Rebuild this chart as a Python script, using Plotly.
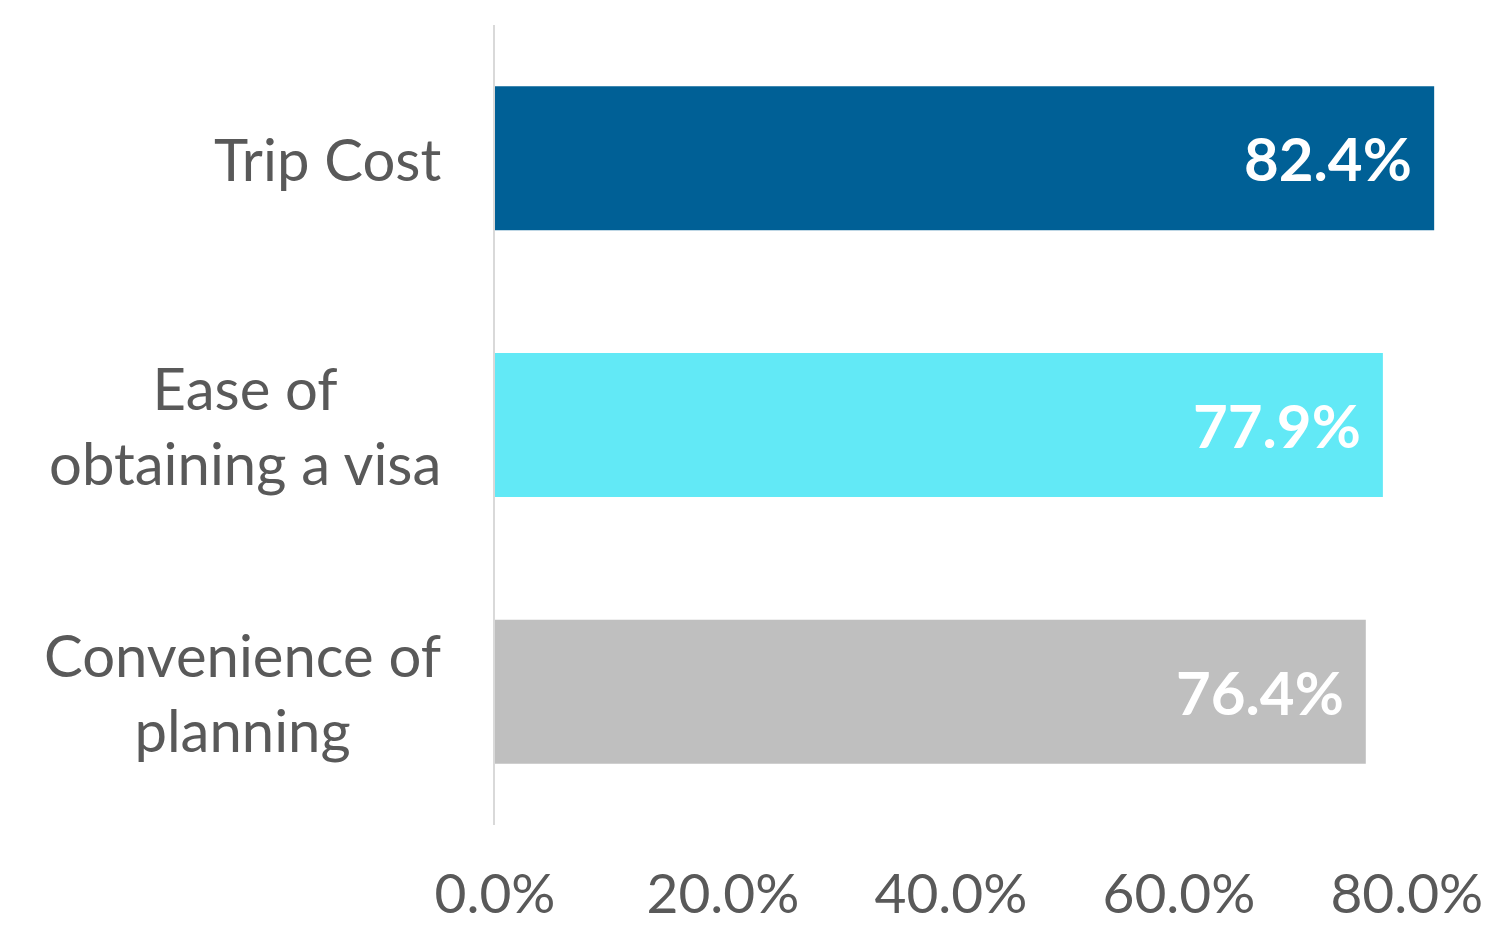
import plotly.graph_objects as go

# Survey results: share of respondents citing each factor
categories = ["Trip Cost", "Ease of<br>obtaining a visa", "Convenience of<br>planning"]
values = [0.824, 0.779, 0.764]
bar_colors = ["#006096", "#62E9F6", "#BFBFBF"]
tick_values = [0.0, 0.2, 0.4, 0.6, 0.8]
tick_labels = ["0.0%", "20.0%", "40.0%", "60.0%", "80.0%"]

FONT = "Lato, 'Open Sans', sans-serif"
TEXT_GREY = "#595959"

fig = go.Figure(
    go.Bar(
        x=values,
        y=categories,
        orientation="h",
        marker=dict(color=bar_colors, line=dict(width=0)),
        width=0.54,
        hoverinfo="skip",
    )
)

# Value labels inside the bar ends
for cat, val in zip(categories, values):
    fig.add_annotation(
        x=val, y=cat, xref="x", yref="y",
        text=f"<b>{val * 100:.1f}%</b>",
        showarrow=False, xanchor="right", yanchor="middle", xshift=-20,
        font=dict(family=FONT, size=60, color="#FFFFFF"),
    )

# Category labels, centred line by line, left of the axis
for cat in categories:
    fig.add_annotation(
        x=0, y=cat, xref="x", yref="y",
        text=cat, showarrow=False, xanchor="right", yanchor="middle",
        align="center", xshift=-52,
        font=dict(family=FONT, size=58, color=TEXT_GREY),
    )

fig.update_layout(
    width=1503,
    height=929,
    margin=dict(l=495, r=5, t=25, b=104, autoexpand=False),
    paper_bgcolor="#FFFFFF",
    plot_bgcolor="rgba(0,0,0,0)",
    showlegend=False,
    xaxis=dict(
        range=[0, 0.88],
        tickvals=tick_values,
        ticktext=tick_labels,
        showgrid=False,
        zeroline=False,
        showline=False,
        ticks="",
        automargin=False,
        ticklabelstandoff=32,
        tickfont=dict(family=FONT, size=55, color=TEXT_GREY),
    ),
    yaxis=dict(
        range=[2.5, -0.5],
        showticklabels=False,
        showgrid=False,
        zeroline=False,
        showline=True,
        linecolor="#D9D9D9",
        linewidth=2,
        ticks="",
        automargin=False,
    ),
)

fig.write_html("out.html")
